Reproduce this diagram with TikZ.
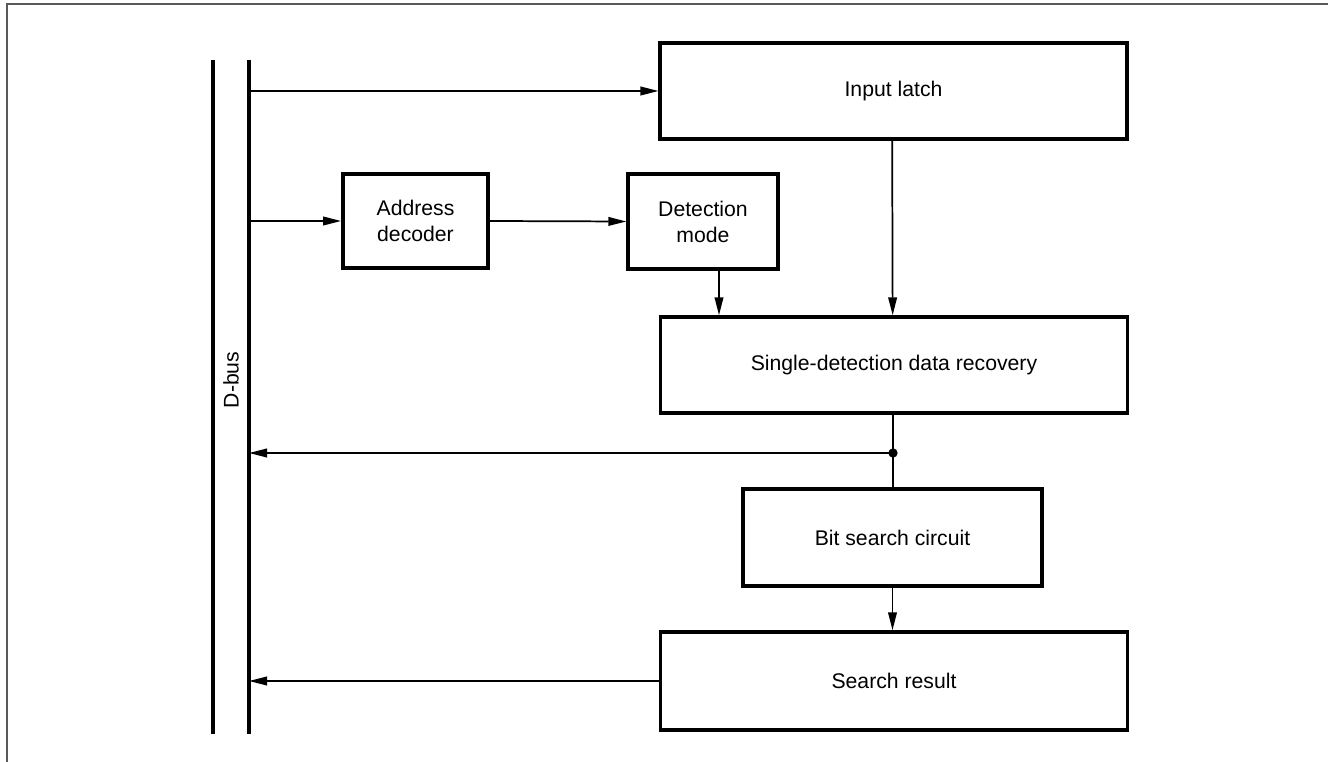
\documentclass[tikz,border=0pt]{standalone}
\usepackage{fontspec}
\setmainfont{Liberation Sans}
\usetikzlibrary{arrows.meta,positioning}

\tikzset{every picture/.style={line width=0.75pt}}
\tikzset{
  blockbox/.style={draw,line width=2.6pt,align=center,inner sep=0pt,font=\fontsize{15.9}{19.5}\selectfont},
  arr/.style={line width=1.3pt,-{Triangle[length=13.5pt,width=6.5pt]}},
  wire/.style={line width=1.3pt},
  busline/.style={line width=2.6pt},
}

\begin{document}
\begin{tikzpicture}[x=0.75pt,y=0.75pt,yscale=-1,xscale=1]
		\useasboundingbox (0,0) rectangle (1328,762);

		%Frame
		\draw [color=black!65,line width=1.2pt] (7,762) -- (7,4) -- (1328,4) ;

		%D-bus lines
		\draw [busline] (213,60) -- (213,734) ;
		\draw [busline] (249,60) -- (249,734) ;
		\coordinate (busR) at (249,0) ;
		% Text Node
		\node (dbus) [rotate=90,font=\fontsize{15.9}{19.5}\selectfont] at (231,380) {D-bus};

		%Blocks
		\node (latch) [blockbox,minimum width=350pt,minimum height=72pt] at (893.5,91) {Input latch};
		\node (addr) [blockbox,minimum width=109pt,minimum height=70.5pt] at (415.5,221) {Address\\decoder};
		\node (mode) [blockbox,minimum width=112.5pt,minimum height=71pt] at (703,221.5) {Detection\\mode};
		\node (sddr) [blockbox,minimum width=350pt,minimum height=72pt] at (894,365) {Single-detection data recovery};
		\node (bsc) [blockbox,minimum width=224pt,minimum height=73pt] at (892.5,537.5) {Bit search circuit};
		\node (sres) [blockbox,minimum width=350pt,minimum height=73.5pt] at (894,681) {Search result};

		%Connectors
		\draw [arr] (latch.west -| busR) -- (latch.west) ;
		\draw [arr] (addr.west -| busR) -- (addr.west) ;
		\draw [arr] (addr.east) -- (mode.west) ;
		\draw [arr] ([xshift=12pt]mode.south) -- ([xshift=12pt]mode.south |- sddr.north) ;
		\draw [arr] ([xshift=-1pt]latch.south) -- ([xshift=-1pt]sddr.north) ;
		\coordinate (jn) at ([xshift=-0.75pt]sddr.south |- 0,453) ;
		\draw [wire] ([xshift=-0.75pt]sddr.south) -- (jn) -- (jn |- bsc.north) ;
		\draw [arr] (jn) -- (jn -| busR) ;
		\fill (jn) circle (3.5pt) ;
		\draw [arr] (bsc.south) -- (bsc.south |- sres.north) ;
		\draw [arr] (sres.west) -- (sres.west -| busR) ;

\end{tikzpicture}
\end{document}
